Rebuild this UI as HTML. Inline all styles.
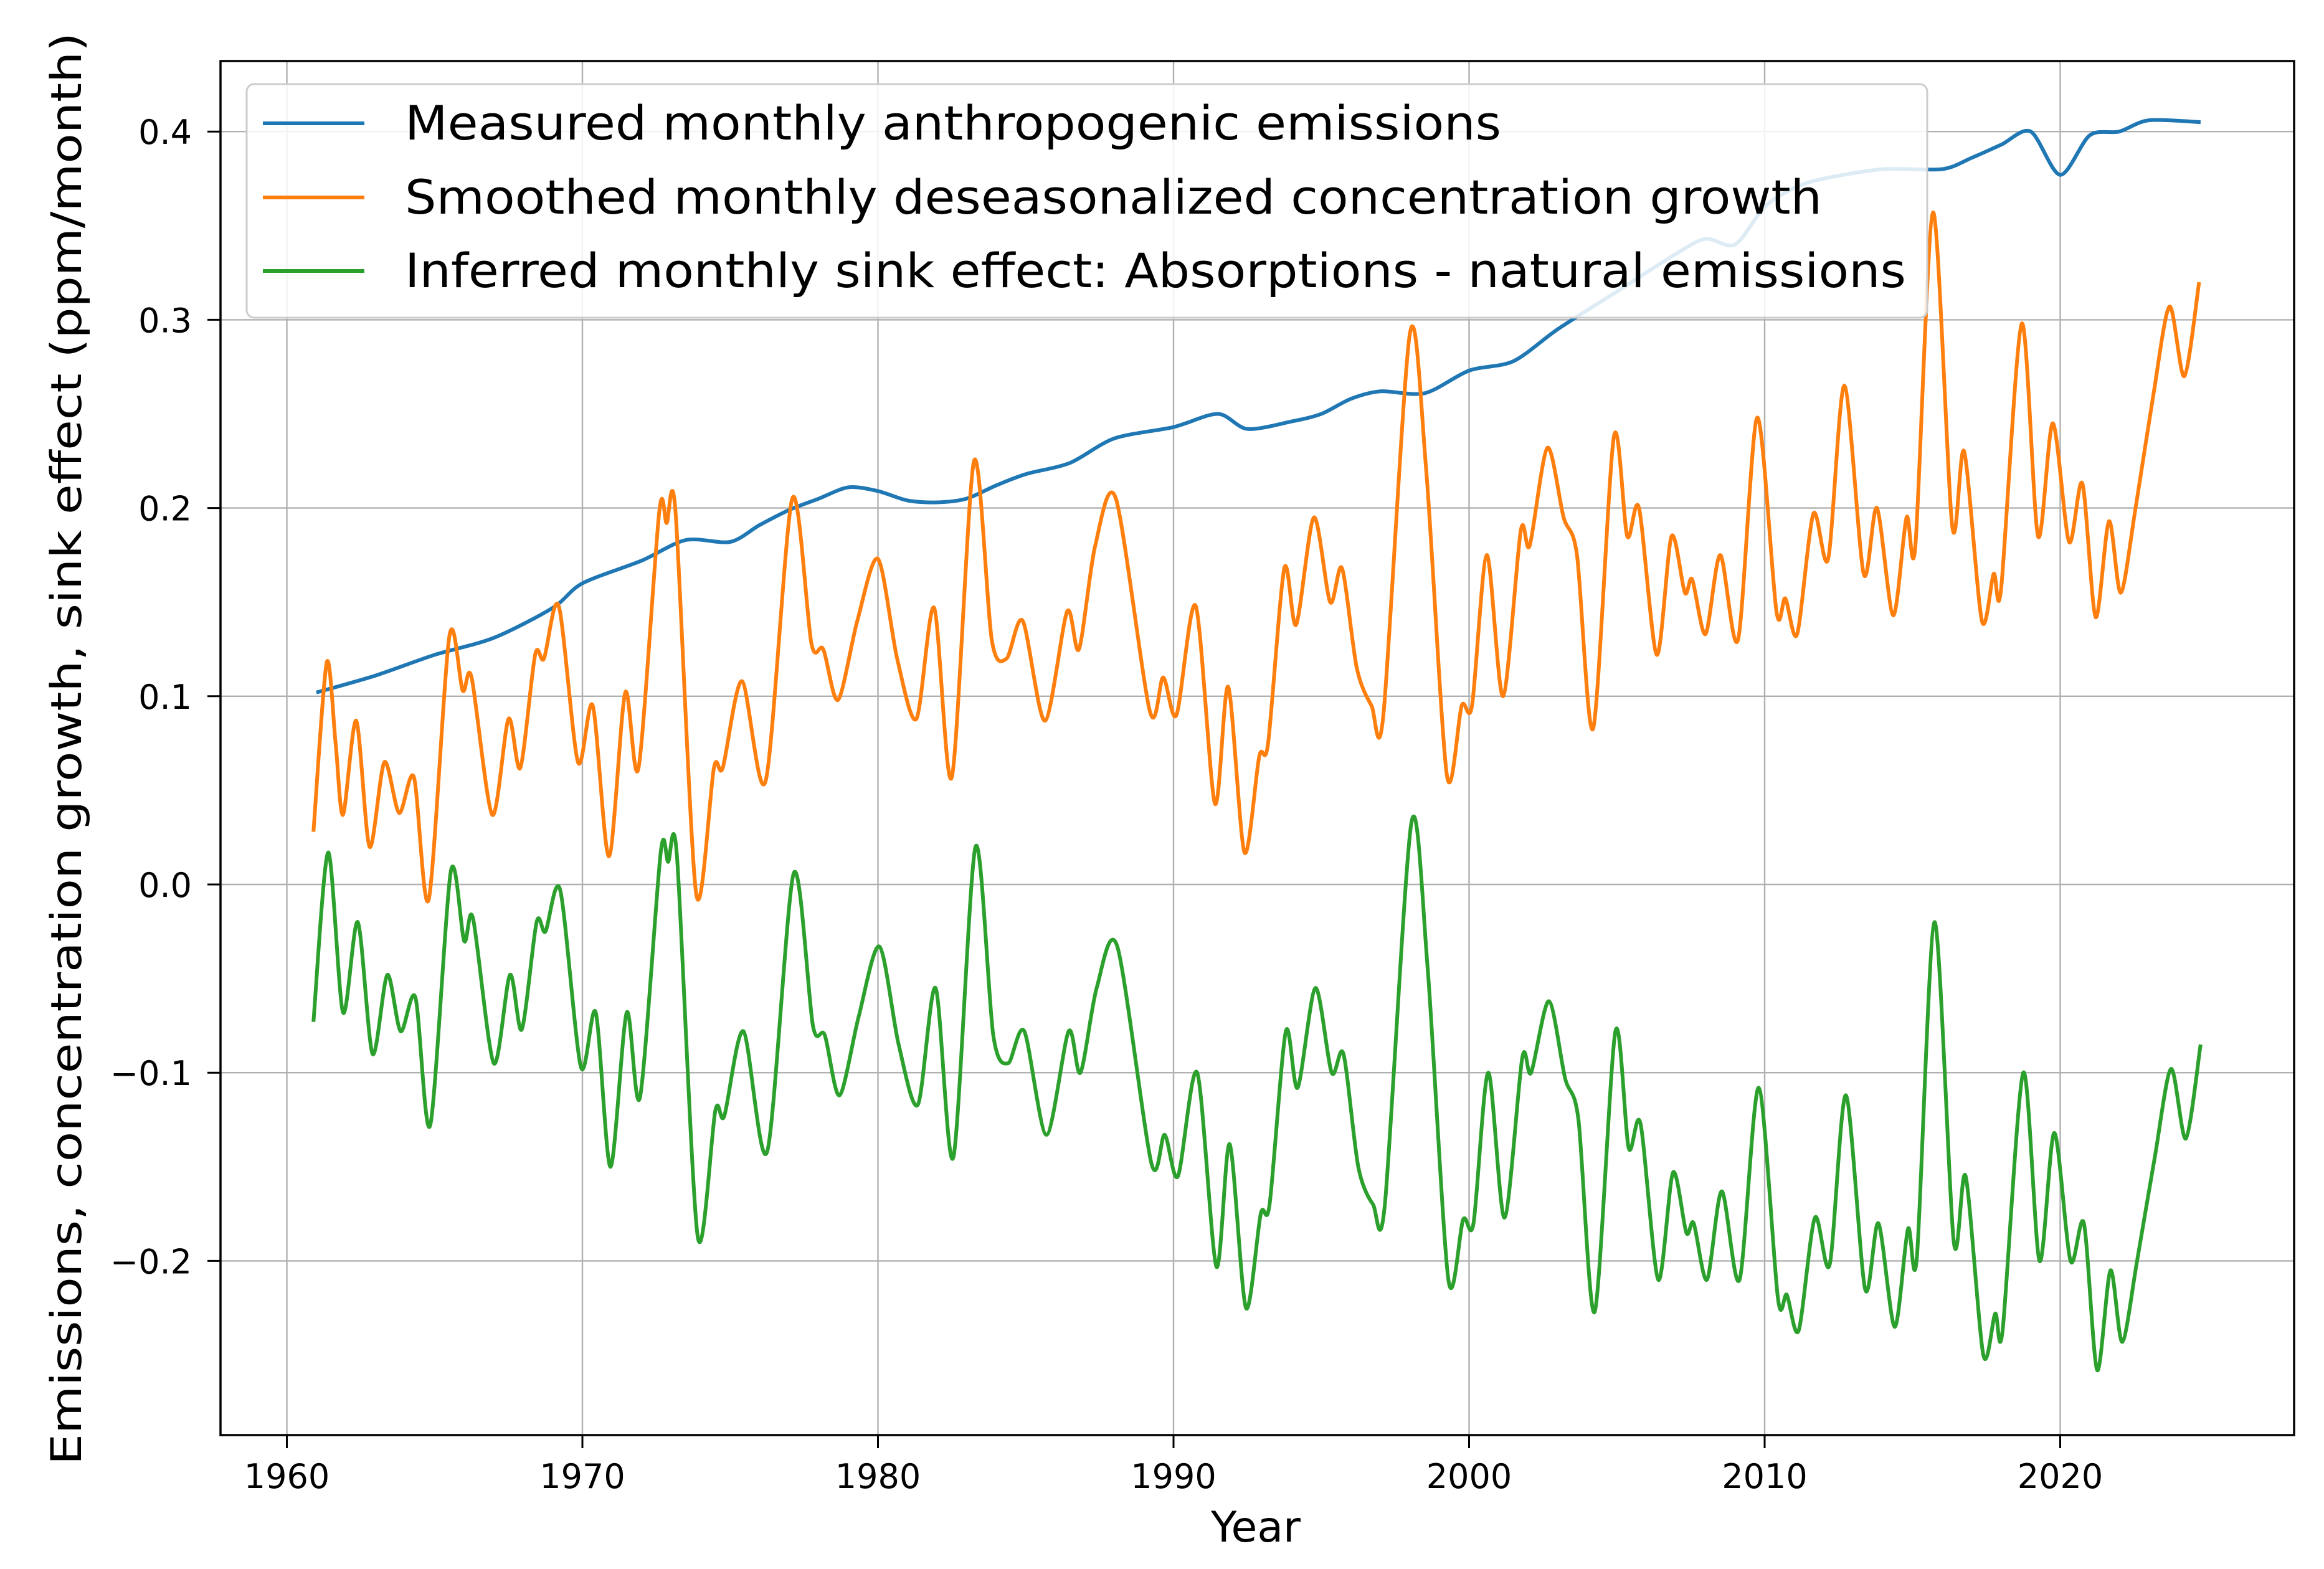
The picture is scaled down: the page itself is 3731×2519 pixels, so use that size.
<!DOCTYPE html>
<html><head><meta charset="utf-8"><style>
html,body{margin:0;padding:0;background:#fff}
svg{display:block;font-family:"DejaVu Sans","Liberation Sans",sans-serif}
</style></head><body>
<svg id="chart" width="3731" height="2519" viewBox="0 0 3731 2519" xmlns="http://www.w3.org/2000/svg">
<rect width="3731" height="2519" fill="#fff"/>
<g id="grid"></g>
<g id="series"></g>
<rect x="354" y="98" width="3329" height="2206" fill="none" stroke="#000" stroke-width="3.5"/>
<g id="ticks"></g>
<text x="2016" y="2475" font-size="68" text-anchor="middle">Year</text>
<text transform="translate(130,1202) rotate(-90)" font-size="68" text-anchor="middle" textLength="2300" lengthAdjust="spacingAndGlyphs">Emissions, concentration growth, sink effect (ppm/month)</text>
<g id="legend">
<rect x="396" y="135" width="2698" height="375" rx="12" fill="#fff" fill-opacity="0.85" stroke="#ccc" stroke-width="3"/>
<line x1="422" y1="198" x2="585" y2="198" stroke="#1f77b4" stroke-width="6"/>
<text x="650" y="224" font-size="76" textLength="1760" lengthAdjust="spacingAndGlyphs">Measured monthly anthropogenic emissions</text>
<line x1="422" y1="317" x2="585" y2="317" stroke="#ff7f0e" stroke-width="6"/>
<text x="650" y="343" font-size="76" textLength="2275" lengthAdjust="spacingAndGlyphs">Smoothed monthly deseasonalized concentration growth</text>
<line x1="422" y1="435" x2="585" y2="435" stroke="#2ca02c" stroke-width="6"/>
<text x="650" y="461" font-size="76" textLength="2410" lengthAdjust="spacingAndGlyphs">Inferred monthly sink effect: Absorptions - natural emissions</text>
</g>
</svg>
<script>
const xTicks=[1960,1970,1980,1990,2000,2010,2020];
const yTicks=[0.4,0.3,0.2,0.1,0.0,-0.1,-0.2];
const yTickLabels=["0.4","0.3","0.2","0.1","0.0","\u22120.1","\u22120.2"];
const emisYears=[1961,1963,1965,1967,1969,1970,1972,1973.5,1975,1976,1977,1978,1979,1980,1981,1982,1983,1984,1985,1986.5,1988,1990,1991.5,1992.5,1994,1995,1996,1997,1998.5,2000,2001.5,2003,2005,2007,2008,2009,2010,2011,2012,2014,2016,2017,2018,2019,2020,2021,2022,2023,2024.75];
const emisValues=[0.102,0.111,0.122,0.131,0.147,0.160,0.172,0.183,0.182,0.191,0.199,0.205,0.211,0.209,0.204,0.203,0.205,0.212,0.218,0.224,0.237,0.243,0.250,0.242,0.246,0.250,0.258,0.262,0.261,0.273,0.278,0.295,0.315,0.335,0.343,0.340,0.360,0.370,0.375,0.380,0.380,0.386,0.393,0.400,0.377,0.398,0.400,0.406,0.405];
const growthYears=[1960.9,1961.35,1961.65,1961.9,1962.35,1962.8,1963.3,1963.8,1964.3,1964.8,1965.5,1965.95,1966.25,1966.95,1967.5,1967.9,1968.4,1968.7,1969.2,1969.85,1970.35,1970.9,1971.45,1971.9,1972.6,1972.85,1973.15,1973.85,1974.45,1974.75,1975.4,1976.2,1977.1,1977.75,1978.15,1978.65,1979.3,1980.0,1980.65,1981.3,1981.9,1982.5,1983.25,1983.85,1984.35,1984.9,1985.65,1986.4,1986.8,1987.35,1988.05,1989.2,1989.65,1990.1,1990.75,1991.4,1991.85,1992.4,1992.9,1993.2,1993.75,1994.15,1994.75,1995.3,1995.7,1996.2,1996.7,1997.1,1998.0,1998.55,1999.25,1999.75,2000.1,2000.6,2001.15,2001.75,2002.05,2002.65,2003.2,2003.65,2004.2,2004.9,2005.35,2005.75,2006.35,2006.85,2007.3,2007.55,2008.0,2008.5,2009.1,2009.75,2010.4,2010.7,2011.1,2011.65,2012.15,2012.7,2013.35,2013.8,2014.35,2014.8,2015.1,2015.7,2016.35,2016.75,2017.35,2017.75,2018.0,2018.7,2019.25,2019.75,2020.3,2020.75,2021.2,2021.65,2022.05,2022.55,2023.15,2023.7,2024.2,2024.7];
const growthValues=[0.028,0.118,0.075,0.037,0.087,0.02,0.065,0.038,0.057,-0.008,0.132,0.103,0.11,0.037,0.088,0.062,0.122,0.12,0.148,0.065,0.095,0.015,0.102,0.062,0.198,0.192,0.198,-0.005,0.062,0.062,0.108,0.055,0.205,0.128,0.125,0.098,0.14,0.173,0.12,0.088,0.147,0.057,0.225,0.13,0.12,0.14,0.087,0.145,0.125,0.18,0.205,0.092,0.11,0.09,0.148,0.043,0.105,0.017,0.068,0.075,0.168,0.138,0.195,0.15,0.168,0.115,0.095,0.09,0.293,0.22,0.058,0.095,0.095,0.175,0.1,0.188,0.18,0.232,0.195,0.175,0.083,0.238,0.185,0.2,0.122,0.185,0.155,0.162,0.133,0.175,0.13,0.248,0.145,0.152,0.133,0.197,0.173,0.265,0.165,0.2,0.143,0.195,0.18,0.357,0.19,0.23,0.14,0.165,0.157,0.298,0.185,0.245,0.182,0.213,0.142,0.193,0.155,0.2,0.26,0.307,0.27,0.32];
const sinkYears=[1960.9,1961.4,1961.9,1962.4,1962.9,1963.4,1963.85,1964.35,1964.85,1965.55,1966.0,1966.3,1967.0,1967.55,1967.95,1968.45,1968.75,1969.25,1969.95,1970.45,1970.95,1971.5,1971.95,1972.65,1972.9,1973.2,1973.9,1974.5,1974.8,1975.45,1976.25,1977.15,1977.8,1978.2,1978.7,1979.35,1980.05,1980.7,1981.35,1981.95,1982.55,1983.3,1983.9,1984.4,1984.95,1985.7,1986.45,1986.85,1987.4,1988.1,1989.25,1989.7,1990.15,1990.8,1991.45,1991.9,1992.45,1992.95,1993.25,1993.8,1994.2,1994.8,1995.35,1995.75,1996.25,1996.75,1997.15,1998.05,1998.6,1999.3,1999.8,2000.15,2000.65,2001.2,2001.8,2002.1,2002.7,2003.25,2003.7,2004.25,2004.95,2005.4,2005.8,2006.4,2006.9,2007.35,2007.6,2008.05,2008.55,2009.15,2009.8,2010.45,2010.75,2011.15,2011.7,2012.2,2012.75,2013.4,2013.85,2014.4,2014.85,2015.15,2015.75,2016.4,2016.8,2017.4,2017.8,2018.05,2018.75,2019.3,2019.8,2020.35,2020.8,2021.25,2021.7,2022.1,2022.6,2023.2,2023.75,2024.25,2024.75];
const sinkValues=[-0.073,0.017,-0.068,-0.02,-0.09,-0.048,-0.078,-0.06,-0.128,0.007,-0.03,-0.018,-0.095,-0.048,-0.077,-0.02,-0.025,-0.003,-0.097,-0.068,-0.15,-0.068,-0.113,0.017,0.012,0.015,-0.187,-0.12,-0.123,-0.078,-0.142,0.006,-0.075,-0.08,-0.112,-0.07,-0.033,-0.085,-0.117,-0.055,-0.145,0.02,-0.08,-0.095,-0.078,-0.133,-0.078,-0.1,-0.055,-0.033,-0.148,-0.133,-0.155,-0.1,-0.203,-0.138,-0.225,-0.175,-0.17,-0.078,-0.108,-0.055,-0.1,-0.09,-0.15,-0.17,-0.17,0.033,-0.045,-0.21,-0.178,-0.18,-0.1,-0.177,-0.092,-0.1,-0.062,-0.103,-0.125,-0.227,-0.078,-0.14,-0.127,-0.21,-0.153,-0.185,-0.18,-0.21,-0.163,-0.21,-0.108,-0.22,-0.218,-0.237,-0.177,-0.202,-0.112,-0.215,-0.18,-0.235,-0.183,-0.198,-0.02,-0.19,-0.155,-0.25,-0.228,-0.237,-0.1,-0.2,-0.132,-0.2,-0.18,-0.258,-0.205,-0.243,-0.2,-0.145,-0.098,-0.135,-0.085];

const NS="http://www.w3.org/2000/svg";
const X0=460.5, XPERYEAR=47.45, Y0=1420, YPER=3022;
function xs(yr){return X0+(yr-1960)*XPERYEAR;}
function ys(v){return Y0-v*YPER;}
function mk(tag,attrs,parent){const e=document.createElementNS(NS,tag);for(const k in attrs)e.setAttribute(k,attrs[k]);parent.appendChild(e);return e;}
const grid=document.getElementById('grid'),ticks=document.getElementById('ticks'),series=document.getElementById('series');
xTicks.forEach(t=>{
  const x=xs(t);
  const g=mk('line',{x1:x,y1:98,x2:x,y2:2304,stroke:'#b0b0b0','stroke-width':2.4},grid);
  
  
  const tk=mk('line',{x1:x,y1:2304,x2:x,y2:2325,stroke:'#000','stroke-width':3},ticks);
  
  
  const tx=mk('text',{x:x,y:2389,'font-size':54,'text-anchor':'middle'},ticks);
  tx.textContent=String(t);
  
  
});
yTicks.forEach((t,i)=>{
  const y=ys(t);
  const g=mk('line',{x1:354,y1:y,x2:3683,y2:y,stroke:'#b0b0b0','stroke-width':2.4},grid);
  
  
  const tk=mk('line',{x1:333,y1:y,x2:354,y2:y,stroke:'#000','stroke-width':3},ticks);
  
  
  const tx=mk('text',{x:308,y:y+20,'font-size':54,'text-anchor':'end'},ticks);
  tx.textContent=yTickLabels[i];
  
  
});
function pathFor(xsArr,vals){
  const p=xsArr.map((t,i)=>[xs(t),ys(vals[i])]);
  let d='M'+p[0][0].toFixed(1)+','+p[0][1].toFixed(1);
  for(let i=0;i<p.length-1;i++){
    const p0=p[Math.max(0,i-1)],p1=p[i],p2=p[i+1],p3=p[Math.min(p.length-1,i+2)];
    const c1=[p1[0]+(p2[0]-p0[0])/7,p1[1]+(p2[1]-p0[1])/7];
    const c2=[p2[0]-(p3[0]-p1[0])/7,p2[1]-(p3[1]-p1[1])/7];
    d+=' C'+c1[0].toFixed(1)+','+c1[1].toFixed(1)+' '+c2[0].toFixed(1)+','+c2[1].toFixed(1)+' '+p2[0].toFixed(1)+','+p2[1].toFixed(1);
  }
  return d;
}
const l1=mk('path',{d:pathFor(emisYears,emisValues),fill:'none',stroke:'#1f77b4','stroke-width':6,'stroke-linejoin':'round'},series);


const l2=mk('path',{d:pathFor(growthYears,growthValues),fill:'none',stroke:'#ff7f0e','stroke-width':6,'stroke-linejoin':'round'},series);


const l3=mk('path',{d:pathFor(sinkYears,sinkValues),fill:'none',stroke:'#2ca02c','stroke-width':6,'stroke-linejoin':'round'},series);


</script>
</body></html>
